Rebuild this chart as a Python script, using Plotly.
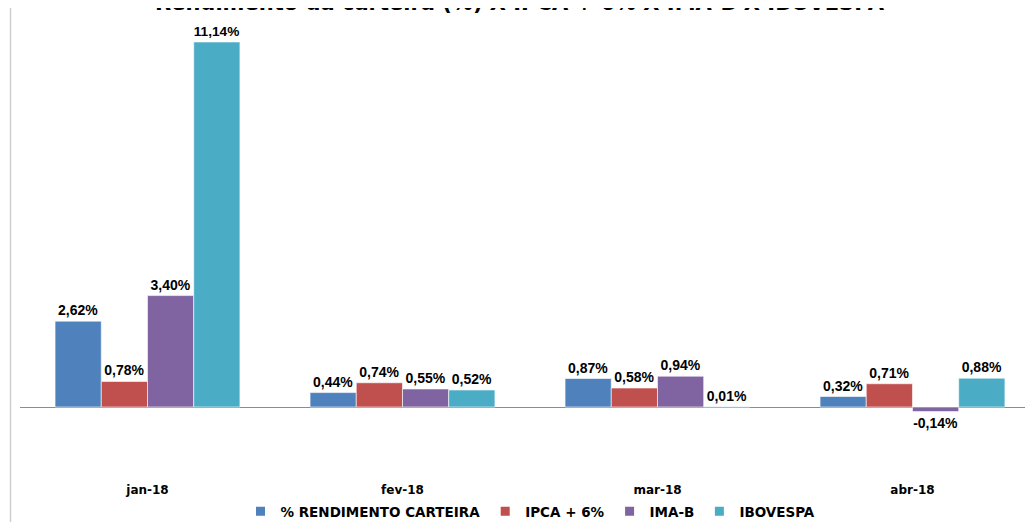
import plotly.graph_objects as go

categories = ["jan-18", "fev-18", "mar-18", "abr-18"]
series_names = ["% RENDIMENTO CARTEIRA", "IPCA + 6%", "IMA-B", "IBOVESPA"]
rendimento = [2.62, 0.44, 0.87, 0.32]
ipca6 = [0.78, 0.74, 0.58, 0.71]
imab = [3.40, 0.55, 0.94, -0.14]
ibovespa = [11.14, 0.52, 0.01, 0.88]
colors = ["#4F81BD", "#C0504D", "#8064A2", "#4BACC6"]
title_text = "Rendimento da carteira (%) X IPCA + 6% X IMA-B X IBOVESPA"

def fmt(v):
    return f"{v:.2f}".replace(".", ",") + "%"

fig = go.Figure()
for name, vals, col in zip(series_names, [rendimento, ipca6, imab, ibovespa], colors):
    fig.add_trace(go.Bar(
        x=categories, y=vals, name=name, showlegend=False,
        marker=dict(color=col, line=dict(color="white", width=0.6)),
        text=[fmt(v) for v in vals],
        textposition="outside",
        textfont=dict(family="Liberation Sans", size=14, color="black", weight="bold"),
        cliponaxis=False,
    ))
# legend entries with small square markers
for name, col in zip(series_names, colors):
    fig.add_trace(go.Scatter(
        x=[None], y=[None], mode="markers", name=name,
        marker=dict(symbol="square", size=9, color=col),
        showlegend=True,
    ))

# title is partly cut off at the top edge, as in the reference
fig.add_annotation(
    text=title_text, xref="paper", yref="paper", x=0.4897, y=1.0075,
    xanchor="center", yanchor="bottom", showarrow=False,
    font=dict(family="DejaVu Sans", size=21, color="black", weight="bold"),
)

fig.update_layout(
    width=1033, height=522,
    margin=dict(l=12, r=0, t=12, b=49),
    paper_bgcolor="white", plot_bgcolor="white",
    barmode="group", bargap=0.275, bargroupgap=0,
    legend=dict(orientation="h", x=0.5, xanchor="center", y=-0.0325, yanchor="top",
                font=dict(family="DejaVu Sans", size=13.5, color="black", weight="bold"),
                itemwidth=30, traceorder="normal", tracegroupgap=0),
    xaxis=dict(range=[-0.5, 3.504], showline=False, showgrid=False, ticks="",
               tickfont=dict(family="DejaVu Sans", size=12, color="black", weight="bold")),
    yaxis=dict(range=[-2.258, 11.81], showgrid=False, showticklabels=False, ticks="",
               zeroline=True, zerolinecolor="#8C8C8C", zerolinewidth=1, showline=False),
    shapes=[dict(type="line", xref="paper", yref="paper", x0=-9.5/1021, x1=-9.5/1021,
                 y0=-2, y1=2, line=dict(color="#D0D0D0", width=1.5))],
)

fig.write_html("out.html")
